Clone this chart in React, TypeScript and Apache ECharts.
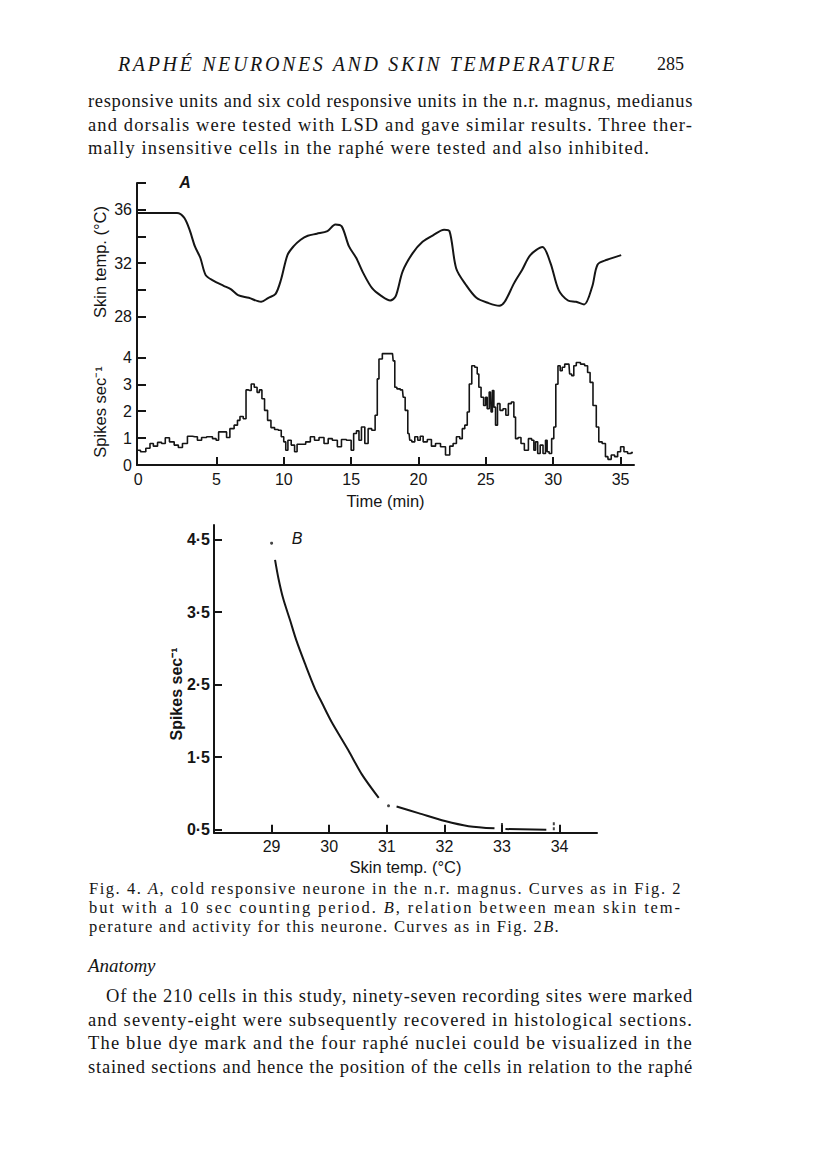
import React, { useEffect, useLayoutEffect, useRef } from "react";
import * as echarts from "echarts";

// ---------- Panel A : skin temperature (time min, °C) ----------
const skinTempTrace: [number, number][] = [
  [-0.85, 35.75], [2.07, 35.75], [2.6, 35.4], [3.0, 34.5], [3.4, 33.25], [3.8, 32.4], [4.2, 31.1],
  [4.73, 30.7], [5.53, 30.3], [6.06, 30.05], [6.6, 29.6], [7.4, 29.4], [8.32, 29.1], [8.86, 29.4],
  [9.39, 29.7], [9.79, 30.75], [10.27, 32.6], [10.72, 33.25], [11.25, 33.75], [11.78, 34.05],
  [12.45, 34.2], [13.24, 34.4], [13.83, 34.9], [14.3, 34.75], [14.84, 33.25], [15.37, 32.4],
  [15.9, 31.25], [16.57, 30.1], [17.23, 29.55], [17.9, 29.2], [18.3, 29.5], [18.83, 31.4],
  [19.57, 32.75], [20.3, 33.6], [21.1, 34.1], [21.9, 34.5], [22.3, 34.4], [22.8, 31.6],
  [23.5, 30.4], [24.3, 29.4], [25.2, 29.0], [26.0, 28.8], [26.4, 29.1], [27.1, 30.5],
  [27.7, 31.5], [28.3, 32.6], [29.2, 33.2], [29.8, 32.0], [30.4, 30.0], [31.1, 29.2],
  [31.7, 29.1], [32.3, 28.9], [32.9, 30.25], [33.3, 31.9], [34.0, 32.25], [35.05, 32.6],
];

// ---------- Panel A : spikes per second (time min, spikes/s), 10 s counts ----------
const spikeTrace: [number, number][] = [
  [-0.85, 0.55], [-0.43, 0.49], [-0.06, 0.62], [0.19, 0.8], [0.44, 0.7], [0.81, 0.84], [1.05, 0.8],
  [1.35, 1.01], [1.67, 0.86], [2.05, 0.74], [2.29, 0.65], [2.66, 0.8], [3.03, 1.07], [3.4, 1.05],
  [3.77, 0.92], [4.02, 1.02], [4.52, 1.05], [4.89, 0.98], [5.06, 0.92], [5.26, 1.23], [5.63, 1.23],
  [5.87, 1.02], [6.12, 1.35], [6.5, 1.48], [6.62, 1.66], [6.87, 1.8], [7.11, 1.72], [7.28, 2.79],
  [7.48, 2.77], [7.68, 3.01], [7.93, 2.89], [8.1, 2.7], [8.28, 2.79], [8.47, 2.46], [8.67, 2.03],
  [8.92, 1.66], [9.17, 1.39], [9.46, 1.32], [9.71, 1.29], [9.91, 1.05], [10.08, 0.86], [10.21, 0.55],
  [10.4, 0.92], [10.7, 0.74], [10.9, 0.49], [11.07, 0.77], [11.44, 0.77], [11.81, 0.86], [12.13, 1.05],
  [12.43, 0.92], [12.8, 1.02], [13.17, 0.8], [13.42, 0.98], [13.79, 0.92], [14.16, 0.68], [14.4, 0.95],
  [14.9, 0.92], [15.1, 0.55], [15.27, 1.17], [15.52, 1.27], [15.64, 0.92], [15.89, 1.41], [16.14, 0.8],
  [16.38, 1.35], [16.68, 1.29], [16.88, 1.85], [17.0, 3.2], [17.13, 3.94], [17.5, 4.14], [17.82, 4.14],
  [18.07, 4.14], [18.17, 3.87], [18.31, 2.89], [18.48, 2.83], [18.81, 2.79], [18.91, 2.52], [19.11, 2.03],
  [19.3, 1.17], [19.4, 0.92], [19.6, 0.86], [19.85, 1.05], [20.04, 0.92], [20.22, 1.07], [20.47, 0.86],
  [20.84, 0.95], [21.08, 0.7], [21.45, 0.8], [21.82, 0.68], [22.19, 0.37], [22.45, 0.7], [22.69, 0.8],
  [22.94, 1.05], [23.19, 0.98], [23.31, 1.35], [23.56, 1.48], [23.68, 1.97], [23.86, 3.01], [24.05, 3.69],
  [24.3, 3.63], [24.42, 3.38], [24.54, 2.89], [24.75, 2.52], [24.92, 2.21], [25.04, 2.52], [25.16, 2.09],
  [25.34, 2.71], [25.44, 1.97], [25.53, 2.77], [25.66, 2.15], [25.78, 1.48], [25.95, 2.28], [26.15, 2.03],
  [26.4, 2.09], [26.57, 1.85], [26.77, 2.28], [27.02, 2.34], [27.14, 1.78], [27.27, 0.98], [27.51, 1.02],
  [27.71, 0.8], [28.01, 0.55], [28.31, 0.98], [28.5, 0.92], [28.63, 0.55], [28.75, 0.86], [28.95, 0.43],
  [29.12, 0.74], [29.37, 0.43], [29.49, 0.92], [29.61, 0.49], [29.79, 0.43], [29.98, 0.98], [30.11, 1.41],
  [30.28, 3.0], [30.43, 3.69], [30.61, 3.5], [30.73, 3.63], [30.98, 3.75], [31.17, 3.75], [31.27, 3.38],
  [31.47, 3.32], [31.59, 3.69], [31.84, 3.81], [32.21, 3.75], [32.46, 3.69], [32.65, 3.44], [32.83, 3.07],
  [33.08, 2.21], [33.32, 1.41], [33.45, 0.86], [33.82, 0.8], [33.94, 0.31], [34.19, 0.21], [34.43, 0.37],
  [34.69, 0.31], [34.88, 0.49], [35.13, 0.68], [35.38, 0.49], [35.67, 0.43], [35.92, 0.46],
];

const timeTicks = [5, 10, 15, 20, 25, 30, 35];
const timeLabels = [0, 5, 10, 15, 20, 25, 30, 35];
const tempTicksA = [28, 30, 32, 34, 36, 38];
const tempLabelsA = [28, 32, 36];
const spikeTicksA = [1, 2, 3, 4];
const spikeLabelsA = [0, 1, 2, 3, 4];

// ---------- Panel B : skin temp (°C) vs spikes/s ----------
const bCurve1: [number, number][] = [
  [29.06, 4.22], [29.12, 3.96], [29.2, 3.69], [29.32, 3.39], [29.43, 3.11], [29.58, 2.79],
  [29.75, 2.45], [29.88, 2.24], [30.04, 1.99], [30.33, 1.6], [30.57, 1.26], [30.86, 0.94],
];
const bCurve2: [number, number][] = [
  [31.17, 0.82], [31.55, 0.73], [32.01, 0.62], [32.42, 0.55], [32.87, 0.52],
];
const bCurve3: [number, number][] = [[33.06, 0.51], [33.77, 0.5]];
const bDots: [number, number][] = [[29.0, 4.45], [31.03, 0.83]];
const bMarks: [number, number][] = [[33.0, 0.54], [33.9, 0.55]];
const bTempTicks = [29, 30, 31, 32, 33, 34];
const bSpikeTicks = [0.5, 1.5, 2.5, 3.5, 4.5];

const INK = "#151515";
const SANS = '"Liberation Sans", Arial, Helvetica, sans-serif';
const SERIF = '"Liberation Serif", "Times New Roman", serif';

type Seg = { t: string; i?: boolean };

function Line(props: { x: number; y: number; w?: number; size: number; italic?: boolean; segs: Seg[] }) {
  const ref = useRef<HTMLSpanElement>(null);
  useLayoutEffect(() => {
    const el = ref.current;
    if (!el || !props.w) return;
    el.style.letterSpacing = "0px";
    const nat = el.getBoundingClientRect().width;
    const n = (el.textContent || "").length;
    if (n > 1) el.style.letterSpacing = (props.w - nat) / n + "px";
  }, []);
  return (
    <div
      style={{
        position: "absolute",
        left: props.x,
        top: props.y - 12,
        height: 24,
        lineHeight: "24px",
        whiteSpace: "nowrap",
        fontFamily: SERIF,
        fontSize: props.size,
        fontStyle: props.italic ? "italic" : "normal",
        color: INK,
      }}
    >
      <span ref={ref}>
        {props.segs.map((s, k) => (
          <span key={k} style={s.i ? { fontStyle: "italic" } : undefined}>
            {s.t}
          </span>
        ))}
      </span>
    </div>
  );
}

export default function App() {
  const ref = useRef<HTMLDivElement>(null);

  useEffect(() => {
    if (!ref.current) return;
    const chart = echarts.init(ref.current, null, { renderer: "svg" });
    const axisLine = { show: true, onZero: false, lineStyle: { color: INK, width: 2 } };
    const lbl = { color: INK, fontFamily: SANS, fontSize: 16 };

    const option: any = {
      animation: false,
      backgroundColor: "transparent",
      grid: [
        { left: 137, top: 183, width: 497, height: 133.5 },
        { left: 137, top: 317, width: 497, height: 148 },
        { left: 214, top: 525, width: 383, height: 307.7 },
      ],
      xAxis: [
        { type: "value", gridIndex: 0, min: -0.9, max: 36, show: false },
        {
          type: "value",
          gridIndex: 1,
          min: -0.9,
          max: 36,
          axisLine,
          splitLine: { show: false },
          axisTick: { show: true, inside: true, length: 8, customValues: timeTicks, lineStyle: { color: INK, width: 2 } },
          axisLabel: {
            ...lbl,
            margin: 6,
            customValues: timeLabels,
            formatter: (v: number) => (v === 0 ? "{z|0}" : String(v)),
            rich: { z: { ...lbl, padding: [0, 22, 0, 0] } },
          },
          name: "Time (min)",
          nameLocation: "middle",
          nameGap: 27,
          nameTextStyle: { ...lbl, fontSize: 16.5 },
        },
        {
          type: "value",
          gridIndex: 2,
          min: 28,
          max: 34.65,
          axisLine,
          splitLine: { show: false },
          axisTick: { show: true, inside: true, length: 8, customValues: bTempTicks, lineStyle: { color: INK, width: 2 } },
          axisLabel: { ...lbl, margin: 6, customValues: bTempTicks },
          name: "Skin temp. (°C)",
          nameLocation: "middle",
          nameGap: 26,
          nameTextStyle: { ...lbl, fontSize: 16.5 },
        },
      ],
      yAxis: [
        {
          type: "value",
          gridIndex: 0,
          min: 28,
          max: 38,
          axisLine,
          splitLine: { show: false },
          axisTick: { show: true, inside: true, length: 9, customValues: tempTicksA, lineStyle: { color: INK, width: 2 } },
          axisLabel: { ...lbl, margin: 5, customValues: tempLabelsA },
        },
        {
          type: "value",
          gridIndex: 1,
          min: 0,
          max: 5.5,
          axisLine,
          splitLine: { show: false },
          axisTick: { show: true, inside: true, length: 9, customValues: spikeTicksA, lineStyle: { color: INK, width: 2 } },
          axisLabel: { ...lbl, margin: 5, customValues: spikeLabelsA },
        },
        {
          type: "value",
          gridIndex: 2,
          min: 0.46,
          max: 4.7,
          axisLine,
          splitLine: { show: false },
          axisTick: { show: true, inside: true, length: 8, customValues: bSpikeTicks, lineStyle: { color: INK, width: 2 } },
          axisLabel: {
            ...lbl,
            fontWeight: "bold",
            margin: 4,
            customValues: bSpikeTicks,
            formatter: (v: number) => v.toFixed(1).replace(".", "·"),
          },
        },
      ],
      series: [
        {
          type: "line",
          xAxisIndex: 0,
          yAxisIndex: 0,
          data: skinTempTrace,
          smooth: 0.3,
          showSymbol: false,
          lineStyle: { color: INK, width: 2 },
        },
        {
          type: "line",
          xAxisIndex: 1,
          yAxisIndex: 1,
          data: spikeTrace,
          step: "middle",
          showSymbol: false,
          lineStyle: { color: INK, width: 1.6 },
        },
        ...[bCurve1, bCurve2, bCurve3].map((d) => ({
          type: "line",
          xAxisIndex: 2,
          yAxisIndex: 2,
          data: d,
          smooth: 0.3,
          showSymbol: false,
          lineStyle: { color: INK, width: 2 },
        })),
        {
          type: "scatter",
          xAxisIndex: 2,
          yAxisIndex: 2,
          data: bDots,
          symbolSize: 3,
          itemStyle: { color: INK },
        },
        {
          type: "scatter",
          xAxisIndex: 2,
          yAxisIndex: 2,
          data: bMarks,
          symbol: "path://M0,0h2v3h-2z M0,5h2v3h-2z",
          symbolSize: [2, 8],
          itemStyle: { color: INK },
        },
      ],
      graphic: [
        { type: "text", x: 185, y: 182, style: { text: "A", fill: INK, font: `italic bold 16px ${SANS}`, textAlign: "center", textVerticalAlign: "middle" } },
        { type: "text", x: 297, y: 538, style: { text: "B", fill: INK, font: `italic 16px ${SANS}`, textAlign: "center", textVerticalAlign: "middle" } },
        { type: "text", x: 100, y: 262, rotation: Math.PI / 2, style: { text: "Skin temp. (°C)", fill: INK, font: `16.5px ${SANS}`, textAlign: "center", textVerticalAlign: "middle" } },
        { type: "text", x: 100, y: 412, rotation: Math.PI / 2, style: { text: "Spikes sec⁻¹", fill: INK, font: `16.5px ${SANS}`, textAlign: "center", textVerticalAlign: "middle" } },
        { type: "text", x: 176, y: 694, rotation: Math.PI / 2, style: { text: "Spikes sec⁻¹", fill: INK, font: `bold 16px ${SANS}`, textAlign: "center", textVerticalAlign: "middle" } },
      ],
    };
    chart.setOption(option);
    return () => chart.dispose();
  }, []);

  return (
    <div style={{ position: "absolute", left: 0, top: 0, width: 816, height: 1176, background: "#fff", overflow: "hidden" }}>
      <div ref={ref} style={{ position: "absolute", left: 0, top: 0, width: 816, height: 1176 }} />
      <Line x={118} y={64} w={499} size={20} italic segs={[{ t: "RAPHÉ NEURONES AND SKIN TEMPERATURE" }]} />
      <Line x={657} y={64} size={18} segs={[{ t: "285" }]} />
      <Line x={88} y={101} w={605} size={18.5} segs={[{ t: "responsive units and six cold responsive units in the n.r. magnus, medianus" }]} />
      <Line x={88} y={125} w={605} size={18.5} segs={[{ t: "and dorsalis were tested with LSD and gave similar results. Three ther-" }]} />
      <Line x={88} y={148} w={562} size={18.5} segs={[{ t: "mally insensitive cells in the raphé were tested and also inhibited." }]} />

      <Line x={89} y={889} w={593} size={16.5} segs={[{ t: "Fig. 4. " }, { t: "A", i: true }, { t: ", cold responsive neurone in the n.r. magnus. Curves as in Fig. 2" }]} />
      <Line x={89} y={908} w={593} size={16.5} segs={[{ t: "but with a 10 sec counting period. " }, { t: "B", i: true }, { t: ", relation between mean skin tem-" }]} />
      <Line x={89} y={927} w={471} size={16.5} segs={[{ t: "perature and activity for this neurone. Curves as in Fig. 2" }, { t: "B", i: true }, { t: "." }]} />

      <Line x={88} y={966} size={19} italic segs={[{ t: "Anatomy" }]} />
      <Line x={106} y={996} w={587} size={18.5} segs={[{ t: "Of the 210 cells in this study, ninety-seven recording sites were marked" }]} />
      <Line x={88} y={1020} w={605} size={18.5} segs={[{ t: "and seventy-eight were subsequently recovered in histological sections." }]} />
      <Line x={88} y={1043} w={605} size={18.5} segs={[{ t: "The blue dye mark and the four raphé nuclei could be visualized in the" }]} />
      <Line x={88} y={1067} w={605} size={18.5} segs={[{ t: "stained sections and hence the position of the cells in relation to the raphé" }]} />
    </div>
  );
}
